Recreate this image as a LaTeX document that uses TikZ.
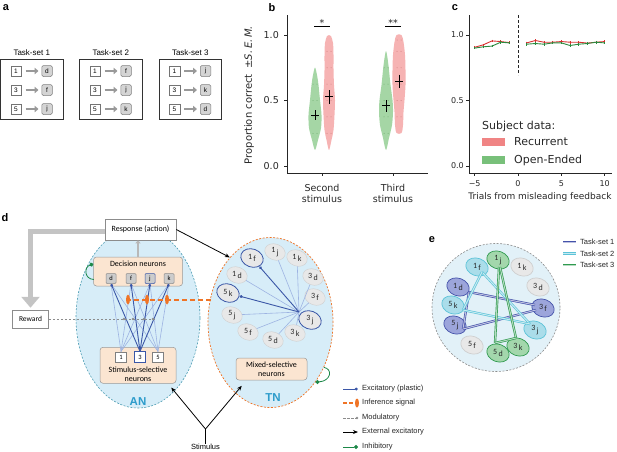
\documentclass[tikz,border=0pt]{standalone}
\usepackage{fontspec}
\setmainfont{Liberation Sans}
\newfontfamily\dvs{DejaVu Sans}
\newfontfamily\crl{Carlito}
\usetikzlibrary{arrows.meta,shapes.geometric,calc,plotmarks}
\definecolor{anfill}{HTML}{D7EDF8}
\definecolor{efill}{HTML}{E2F1F8}
\definecolor{andash}{HTML}{4E9DB3}
\definecolor{peach}{HTML}{FBE5D1}
\definecolor{dkblue}{HTML}{3B57A7}
\definecolor{ltblue}{HTML}{9DB3E2}
\definecolor{orng}{HTML}{EF7426}
\definecolor{inhg}{HTML}{1C8848}
\definecolor{vgreen}{HTML}{8FCC8F}
\definecolor{vred}{HTML}{F4A0A0}
\definecolor{lred}{HTML}{D93030}
\definecolor{lgreen}{HTML}{2B8A3E}
\definecolor{patr}{HTML}{F08484}
\definecolor{patg}{HTML}{78C07A}
\definecolor{ngray}{HTML}{E8E8E8}
\definecolor{nbord}{HTML}{CFCFCF}
\definecolor{tsa}{HTML}{4452AA}
\definecolor{tsaf}{HTML}{9CA5DB}
\definecolor{tsb}{HTML}{5CC3D8}
\definecolor{tsbf}{HTML}{AADDEA}
\definecolor{tsc}{HTML}{2F9A4F}
\definecolor{tscf}{HTML}{A3D7AC}
\definecolor{anteal}{HTML}{2D9CCB}
\begin{document}
\begin{tikzpicture}[x=1pt,y=-1pt,
  every node/.style={inner sep=0pt},
  plabel/.style={font=\fontsize{11}{11}\selectfont\bfseries},
  tsbox/.style={draw=black!80, line width=0.7pt, minimum width=62.5pt, minimum height=60pt},
  stimsq/.style={draw=black!55, fill=white, line width=0.5pt, minimum width=10.5pt, minimum height=10.5pt, font=\fontsize{6.5}{7}\selectfont},
  respsq/.style={draw=black!50, fill=black!17, line width=0.5pt, rounded corners=1.5pt, minimum width=10.5pt, minimum height=11pt, font=\fontsize{6.5}{7}\selectfont},
  garrow/.style={draw=black!40, line width=2.6pt, -{Triangle[length=4pt,width=6.5pt]}},
  bfont/.style={font=\dvs\fontsize{9.5}{11}\selectfont, text=black!85},
  cfont/.style={font=\dvs\fontsize{8}{9}\selectfont, text=black!85},
  spine/.style={line width=0.9pt, black!85},
  dbox/.style={draw=black!45, line width=0.5pt, fill=white, font=\crl\fontsize{7.5}{8}\selectfont},
  pbox/.style={draw=black!40, line width=0.5pt, fill=peach, rounded corners=3pt},
  dtxt/.style={font=\crl\fontsize{7.5}{9}\selectfont, align=center},
  decn/.style={draw=black!45, fill=black!20, line width=0.5pt, rounded corners=1pt, minimum width=10pt, minimum height=10pt, font=\crl\fontsize{6.5}{7}\selectfont},
  stn/.style={draw=black!50, fill=white, line width=0.5pt, minimum width=11pt, minimum height=10.5pt, font=\crl\fontsize{6.5}{7}\selectfont},
  exlight/.style={draw=ltblue, line width=0.6pt},
  exdark/.style={draw=dkblue, line width=0.9pt, -{Diamond[length=3.5pt,width=3pt]}},
  infl/.style={draw=orng, line width=2pt, dash pattern=on 5pt off 3pt},
  infm/.style={ellipse, fill=orng, minimum width=4pt, minimum height=10pt},
  modl/.style={draw=black!45, line width=0.6pt, dash pattern=on 2.5pt off 1.5pt},
  modm/.style={diamond, fill=black!45, minimum width=3pt, minimum height=3pt},
  extarr/.style={draw=black, line width=0.8pt, -{Stealth[length=5pt,width=4pt]}},
  inhib/.style={draw=inhg, line width=0.8pt, -{Circle[length=4pt]}},
  neu/.style={ellipse, fill=ngray, draw=nbord, line width=0.4pt, minimum width=21pt, minimum height=16pt, rotate=-20},
  neusel/.style={neu, draw=dkblue, line width=0.8pt, minimum width=23pt, minimum height=18pt},
  nlab/.style={font=\crl\fontsize{8}{8}\selectfont, text=black!85},
  legd/.style={font=\fontsize{7.5}{8}\selectfont, anchor=west, text=black!85},
  tsl/.style={draw=#1, double=#1!35, double distance=1pt, line width=0.65pt},
]
\useasboundingbox (0,0) rectangle (617,451);

%% ---------------- panel a
\node[plabel] (la) at (6,8) {a};
\foreach \bx/\tn/\ra/\rb/\rc [count=\i] in {0.5/1/d/f/j, 79.5/2/f/j/k, 159/3/j/k/d}{
  \node[tsbox] (tsb\i) at ({\bx+31.25},89) {};
  \node[font=\fontsize{8}{8}\selectfont] (tst\i) at ({\bx+31.25},52.5) {Task-set \tn};
  \foreach \yy/\s/\r [count=\k] in {71/1/\ra, 90/3/\rb, 109/5/\rc}{
    \node[stimsq] (s\i\k) at ({\bx+15.5},\yy) {\s};
    \node[respsq] (r\i\k) at ({\bx+46.5},\yy) {\r};
    \draw[garrow, shorten <=4pt, shorten >=3pt] (s\i\k) -- (r\i\k);
  }
}

%% ---------------- panel b
\node[plabel] (lb) at (272,8) {b};
\fill[vgreen, opacity=0.8] plot[smooth cycle, tension=0.5] coordinates {(315,150) (318,140) (321,128) (321.5,115) (320,100) (318.5,85) (317,75) (315,67.5) (313,75) (311.5,85) (310,100) (308.5,115) (309,128) (312,140)};
\fill[vred, opacity=0.8] plot[smooth cycle, tension=0.5] coordinates {(329,150) (331.5,140) (333.5,130) (334.5,115) (335,100) (334,85) (333.5,70) (333.5,55) (333,43) (331,36) (329,35) (327,36) (325,43) (324.5,55) (324.5,70) (324,85) (323,100) (323.5,115) (324.5,130) (326.5,140)};
\fill[vgreen, opacity=0.8] plot[smooth cycle, tension=0.5] coordinates {(386,150) (389,138) (392,125) (393,112) (392.5,100) (390.5,85) (389,70) (387.5,58) (386,51) (384.5,58) (383,70) (381.5,85) (379.5,100) (379,112) (380,125) (383,138)};
\fill[vred, opacity=0.8] plot[smooth cycle, tension=0.5] coordinates {(396.5,133) (401.5,133) (403,125) (403.5,112) (404.5,100) (405.5,85) (405.5,70) (405,55) (403.5,42) (401.5,35) (396.5,35) (394.5,42) (393,55) (392.5,70) (392.5,85) (393.5,100) (394.5,112) (395,125)};
\foreach \yy in {133.25,116.9,100.5,84.1}{\fill[green!35!black, opacity=0.35] (313,\yy) circle (0.5) (317,\yy) circle (0.5);}
\foreach \yy in {133.25,116.9,100.5,84.1,67.75,51.4}{\fill[red!45!black, opacity=0.3] (327,\yy) circle (0.5) (331,\yy) circle (0.5);}
\foreach \yy in {133.25,116.9,100.5,84.1,67.75}{\fill[green!35!black, opacity=0.35] (384,\yy) circle (0.5) (388,\yy) circle (0.5);}
\foreach \yy in {116.9,100.5,84.1,67.75,51.4,40}{\fill[red!45!black, opacity=0.3] (397,\yy) circle (0.5) (401,\yy) circle (0.5);}
\draw[line width=0.9pt] (315,110) -- (315,120) (311,115) -- (319,115);
\draw[line width=0.9pt] (329,90) -- (329,103.5) (325,96.6) -- (333,96.6);
\draw[line width=0.9pt] (386,100) -- (386,111.5) (382,105.7) -- (390,105.7);
\draw[line width=0.9pt] (399,74.5) -- (399,87.5) (395,81) -- (403,81);
\draw[spine] (287,15) -- (287,173) -- (428,173);
\foreach \v/\lab [count=\i] in {0/0.0,0.5/0.5,1/1.0}{
  \draw[spine, line width=0.8pt] (287,{166-131*\v}) -- (284,{166-131*\v});
  \node[bfont, anchor=east] (byt\i) at (279,{166-131*\v}) {\lab};
}
\foreach \xx/\lab [count=\i] in {322/Second, 393/Third}{
  \draw[spine, line width=0.8pt] (\xx,173) -- (\xx,176);
  \node[bfont, align=center] (bxt\i) at (\xx,193) {\lab\\stimulus};
}
\node[font=\dvs\fontsize{10}{12}\selectfont, text=black!85, rotate=90] (bylab) at (249,95) {Proportion correct\hspace{0.6em}±\textit{S.\,E.\,M.}};
\draw[line width=0.8pt] (314,26) -- (330,26);
\node[bfont] (bs1) at (322,22.5) {*};
\draw[line width=0.8pt] (385,26) -- (401,26);
\node[bfont] (bs2) at (393,22.5) {**};

%% ---------------- panel c
\node[plabel] (lc) at (455,8) {c};
\draw[spine] (469,15) -- (469,173) -- (612,173);
\foreach \v/\lab [count=\i] in {0/0.0,0.5/0.5,1/1.0}{
  \draw[spine, line width=0.8pt] (469,{166-131*\v}) -- (466,{166-131*\v});
  \node[cfont, anchor=east] (cyt\i) at (464,{166-131*\v}) {\lab};
}
\foreach \tv/\lab [count=\i] in {-5/−5, 0/0, 5/5, 10/10}{
  \draw[spine, line width=0.8pt] ({518+8.67*(\tv)},173) -- ({518+8.67*(\tv)},176);
  \node[cfont] (cxt\i) at ({518+8.67*(\tv)},183.5) {\lab};
}
\node[font=\dvs\fontsize{9}{10}\selectfont, text=black!85] (cxl) at (540,197.5) {Trials from misleading feedback};
\draw[black!85, line width=0.9pt, dash pattern=on 3pt off 2pt] (518,15) -- (518,75);
\draw[lred, line width=0.9pt, mark=|, mark size=1.3pt, mark options={solid, line width=0.5pt}] plot coordinates {(474.7,47.3) (483.3,44.8) (492,40.9) (500.7,41.55) (509.3,42.6)};
\draw[lred, line width=0.9pt, mark=|, mark size=1.3pt, mark options={solid, line width=0.5pt}] plot coordinates {(526.7,42.9) (535.3,40.5) (544,42.2) (552.7,42.2) (561.4,41.55) (570,42.2) (578.7,42.2) (587.4,43.1) (596,42.2) (604.7,41.55)};
\draw[lgreen, line width=0.9pt, mark=|, mark size=1.3pt, mark options={solid, line width=0.5pt}] plot coordinates {(474.7,48.1) (483.3,46.8) (492,46.1) (500.7,42.2) (509.3,42.9)};
\draw[lgreen, line width=0.9pt, mark=|, mark size=1.3pt, mark options={solid, line width=0.5pt}] plot coordinates {(526.7,44.2) (535.3,43.5) (544,44.2) (552.7,42.9) (561.4,42.9) (570,45.5) (578.7,44.2) (587.4,43.5) (596,42.2) (604.7,42.9)};
\node[font=\dvs\fontsize{11}{12}\selectfont, text=black!85, anchor=west] (csub) at (482,126) {Subject data:};
\node[fill=patr, minimum width=23pt, minimum height=8pt] (cpr) at (493.5,142) {};
\node[font=\dvs\fontsize{11}{12}\selectfont, text=black!85, anchor=west] (cprt) at (514,142) {Recurrent};
\node[fill=patg, minimum width=23pt, minimum height=8pt] (cpg) at (493.5,160) {};
\node[font=\dvs\fontsize{11}{12}\selectfont, text=black!85, anchor=west] (cpgt) at (514,160) {Open-Ended};

%% ---------------- panel d
\node[plabel] (ld) at (5,218) {d};
\node[ellipse, draw=andash, fill=anfill, line width=0.6pt, dash pattern=on 2pt off 1.5pt, minimum width=124pt, minimum height=180pt] (AN) at (138,318) {};
\node[ellipse, draw=orng, fill=anfill, line width=0.7pt, dash pattern=on 2pt off 1.5pt, minimum width=125pt, minimum height=170pt] (TN) at (270.5,322.5) {};
\node[dbox, minimum width=71pt, minimum height=21pt, font=\crl\fontsize{8}{9}\selectfont] (resp) at (140.5,229.5) {Response (action)};
\node[dbox, minimum width=36pt, minimum height=18pt] (rew) at (30.5,319) {Reward};
\coordinate (gy) at (0,231.5);
\draw[draw=black!23, line width=5pt, -{Triangle[length=11pt,width=18pt]}, shorten >=2pt] (resp.west |- gy) -| (rew.north);
\node[pbox, minimum width=89pt, minimum height=29pt] (dec) at (138,271.5) {};
\node[dtxt, font=\crl\fontsize{8}{9}\selectfont] (dect) at (138,264) {Decision neurons};
\draw[draw=black!28, line width=2pt, -{Triangle[length=3pt,width=5pt]}] (dec.north) -- (dec.north |- resp.south);
\foreach \l/\xx in {d/111, f/131, k/169} \node[decn] (dn\l) at (\xx,278.5) {\l};
\node[decn, draw=dkblue] (dnj) at (150,278.5) {j};
\node[pbox, minimum width=76pt, minimum height=36pt] (stb) at (138,365.3) {};
\node[dtxt, font=\crl\fontsize{8}{9}\selectfont] (stbt) at (138,374) {Stimulus-selective\\neurons};
\node[stn] (sn1) at (121,357) {1};
\node[stn, draw=dkblue, line width=0.7pt] (sn3) at (140,357) {3};
\node[stn] (sn5) at (158,357) {5};
\foreach \a in {sn1,sn5} \foreach \b in {dnd,dnf,dnj,dnk} \draw[exlight] (\a.north) -- (\b.south);
\foreach \b in {dnd,dnf,dnj,dnk} \draw[exdark] (sn3.north) -- (\b.south);
\coordinate (mend) at (156,319);
\draw[modl] (rew.east) -- (mend);
\foreach \xx [count=\i] in {124,133,144,153} \node[modm] (mm\i) at (\xx,319) {};
\coordinate (infs) at (210.5,299.5);
\foreach \xx [count=\i] in {128,147,167} \coordinate (ic\i) at (\xx,299.5);
\draw[infl] (infs) -- (ic1);
\foreach \i in {1,2,3} \node[infm] (im\i) at (ic\i) {};
\draw[extarr] (resp.east) -- (TN.122);
\draw[inhib] ($(dec.west)+(0.5,8)$) .. controls (84,279) and (84,267) .. ($(dec.west)+(0,-7.5)$);
\draw[inhib] (TN.-40) .. controls (333,369) and (331,381) .. (TN.-53);
\node[pbox, minimum width=71pt, minimum height=22pt] (mix) at (271.5,369) {};
\node[dtxt, font=\crl\fontsize{8}{9}\selectfont] (mixt) at (271.5,369) {Mixed-selective\\neurons};
\node[font=\fontsize{7.5}{8}\selectfont] (stim) at (205.5,447) {Stimulus};
\coordinate (sj) at (205.5,429);
\draw[black, line width=0.8pt] (stim.north) -- (sj);
\draw[extarr] (sj) -- ($(stb.south east)+(-5,4)$);
\draw[extarr] (sj) -- ($(mix.south west)+(6,5.5)$);
\node[font=\fontsize{11.5}{12}\selectfont\bfseries, text=anteal] (ANl) at (138,402) {AN};
\node[font=\fontsize{11.5}{12}\selectfont\bfseries, text=anteal] (TNl) at (273,398) {TN};
\foreach \nm/\px/\py/\st in {1f/252/258/neusel, 1j/275/252/neu, 1k/297/258/neu, 1d/237/275/neu, 3d/313/277/neu, 5k/228/293/neusel, 3f/315/297/neu, 5j/232/315/neu, 3j/310/320/neusel, 5f/248/332/neu, 5d/273/340/neu, 3k/295/333/neu}{
  \node[\st] (t\nm) at (\px,\py) {};
}
\coordinate (hub) at (299,312);
\foreach \nm in {1j,1k,3d,3f,1d,5j,5f,5d,3k} \draw[exlight] (hub) -- (t\nm);
\draw[exdark] (hub) -- (t1f);
\draw[exdark] (hub) -- (t5k);
\foreach \nm/\px/\py/\dg/\lt in {1f/252/258/1/f, 1j/275/252/1/j, 1k/297/258/1/k, 1d/237/275/1/d, 3d/313/277/3/d, 5k/228/293/5/k, 3f/315/297/3/f, 5j/232/315/5/j, 3j/310/320/3/j, 5f/248/332/5/f, 5d/273/340/5/d, 3k/295/333/3/k}{
  \node[nlab] (t\nm lab) at (\px,\py) {\dg\,\raisebox{-2.5pt}{\lt}};
}
\coordinate (lga1) at (343,389); \coordinate (lgb1) at (358,389);
\draw[exdark] (lga1) -- (lgb1);
\node[legd] (lgt1) at (362,389) {Excitatory (plastic)};
\coordinate (lga2) at (343,403); \coordinate (lgb2) at (356,403);
\draw[infl, dash pattern=on 4pt off 2pt] (lga2) -- (lgb2);
\node[infm, minimum height=9pt] (lgm2) at (357,403) {};
\node[legd] (lgt2) at (362,403) {Inference signal};
\coordinate (lga3) at (343,418); \coordinate (lgb3) at (357,418);
\draw[modl] (lga3) -- (lgb3);
\node[modm] (lgm3) at (lgb3) {};
\node[legd] (lgt3) at (362,418) {Modulatory};
\coordinate (lga4) at (343,432); \coordinate (lgb4) at (358,432);
\draw[extarr] (lga4) -- (lgb4);
\node[legd] (lgt4) at (362,432) {External excitatory};
\coordinate (lga5) at (343,447); \coordinate (lgb5) at (358,447);
\draw[inhib] (lga5) -- (lgb5);
\node[legd] (lgt5) at (362,447) {Inhibitory};

%% ---------------- panel e
\node[plabel] (le) at (432,240) {e};
\node[circle, draw=black!45, fill=efill, dash pattern=on 2pt off 1.5pt, line width=0.6pt, minimum size=128pt] (ec) at (496,307.5) {};
\foreach \nm/\px/\py/\fc/\bc in {1f/477/267/tsbf/tsb, 1j/498/260/tscf/tsc, 1k/522/267/ngray/nbord, 1d/458/287/tsaf/tsa, 3d/538/287/ngray/nbord, 5k/453/305/tsbf/tsb, 3f/543/308/tsaf/tsa, 5j/455/325/tsaf/tsa, 3j/535/330/tsbf/tsb, 5f/472/345/ngray/nbord, 5d/498/353/tscf/tsc, 3k/518/347/tscf/tsc}{
  \node[neu, fill=\fc, draw=\bc, line width=0.7pt, minimum width=23pt, minimum height=17.5pt] (e\nm) at (\px,\py) {};
}
\draw[tsl=tsa] ($(e1d)+(11,5)$) -- ($(e3f)+(-8,-3)$);
\draw[tsl=tsa] ($(e1d)+(11,5)$) -- ($(e5j)+(8,4)$);
\draw[tsl=tsa] ($(e5j)+(8,4)$) -- ($(e3f)+(-7,2)$);
\draw[tsl=tsb] ($(e1f)+(5,5)$) -- ($(e3j)+(-5,-6)$);
\draw[tsl=tsb] ($(e1f)+(5,5)$) -- ($(e5k)+(10,5)$);
\draw[tsl=tsb] ($(e5k)+(10,5)$) -- ($(e3j)+(-5,-6)$);
\draw[tsl=tsc] ($(e1j)+(1,7)$) -- ($(e5d)+(-3,-10)$);
\draw[tsl=tsc] ($(e1j)+(2,7)$) -- ($(e3k)+(-2,-9)$);
\draw[tsl=tsc] ($(e5d)+(-3,-10)$) -- ($(e3k)+(-2,-9)$);
\foreach \nm/\px/\py/\dg/\lt in {1f/477/267/1/f, 1j/498/260/1/j, 1k/522/267/1/k, 1d/458/287/1/d, 3d/538/287/3/d, 5k/453/305/5/k, 3f/543/308/3/f, 5j/455/325/5/j, 3j/535/330/3/j, 5f/472/345/5/f, 5d/498/353/5/d, 3k/518/347/3/k}{
  \node[nlab] (e\nm lab) at (\px,\py) {\dg\,\raisebox{-2.5pt}{\lt}};
}
\foreach \i/\c in {1/tsa,2/tsb,3/tsc}{
  \coordinate (ela\i) at (563,{230.5+11.5*\i});
  \coordinate (elb\i) at (576,{230.5+11.5*\i});
  \draw[tsl=\c] (ela\i) -- (elb\i);
  \node[legd] (elt\i) at (580,{230.5+11.5*\i}) {Task-set \i};
}
\end{tikzpicture}
\end{document}
